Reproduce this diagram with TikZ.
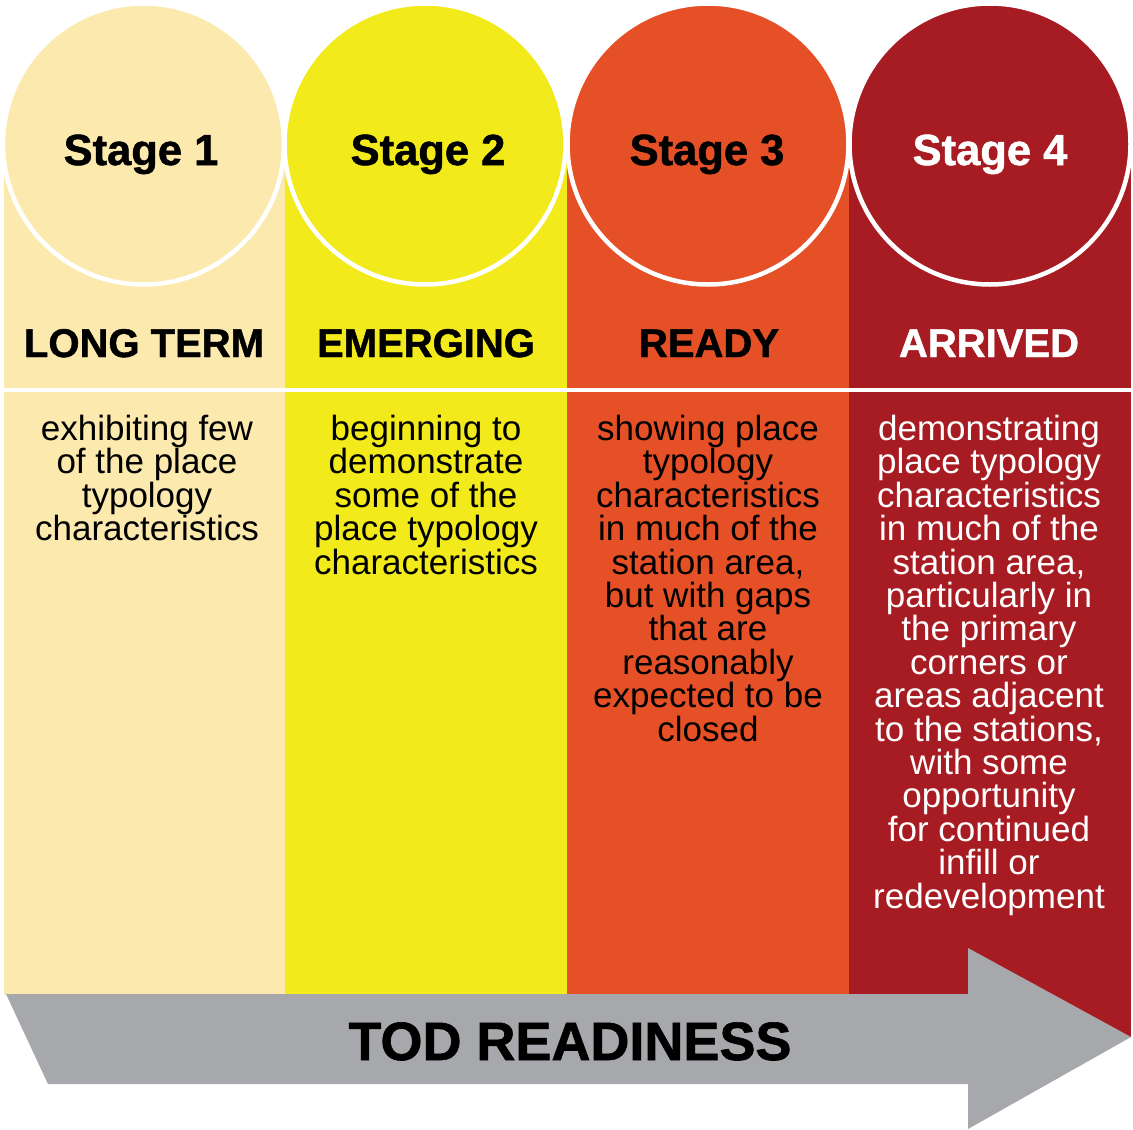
\documentclass[tikz,border=0pt]{standalone}
\usepackage{fontspec}
\setmainfont{Liberation Sans}
\newfontfamily\heavyfont[FakeBold=1.2]{Liberation Sans Bold}
\definecolor{colA}{HTML}{FCE9AE}
\definecolor{colB}{HTML}{F2EA1B}
\definecolor{colC}{HTML}{E55026}
\definecolor{colD}{HTML}{A71C22}
\definecolor{arrowgray}{HTML}{A7A8AB}
\tikzset{
  stagecircle/.style={circle, draw=white, line width=4.5pt, minimum size=281pt, inner sep=0pt},
  stagetext/.style={font=\fontsize{43.5}{50}\selectfont\heavyfont, anchor=base, inner sep=0pt},
  headtext/.style={font=\fontsize{40}{45}\selectfont\heavyfont, anchor=base, inner sep=0pt},
  bodytext/.style={align=center, font=\fontsize{35}{33.4}\selectfont, inner sep=0pt, anchor=north},
}
\begin{document}
\begin{tikzpicture}[x=1pt,y=-1pt]
\useasboundingbox (0,0) rectangle (1133,1130);
% columns
\fill[colA] (4,144) rectangle (285,995);
\fill[colB] (285,144) rectangle (567,995);
\fill[colC] (567,144) rectangle (849,995);
\fill[colD] (849,144) rectangle (1131,1037);
% circles
\node[stagecircle, fill=colA] (c1) at (143.5,144) {};
\node[stagecircle, fill=colB] (c2) at (425,144) {};
\node[stagecircle, fill=colC] (c3) at (708,144) {};
\node[stagecircle, fill=colD] (c4) at (990,144) {};
% separator
\draw[white, line width=3.5pt] (4,390) -- (1131,390);
% stage labels
\node[stagetext] (s1) at (141,165) {Stage 1};
\node[stagetext] (s2) at (428,165) {Stage 2};
\node[stagetext] (s3) at (707,165) {Stage 3};
\node[stagetext, text=white] (s4) at (990,165) {Stage 4};
% headings
\node[headtext] (h1) at (144,357) {LONG TERM};
\node[headtext] (h2) at (426,357) {EMERGING};
\node[headtext] (h3) at (709,357) {READY};
\node[headtext, text=white] (h4) at (989,357) {ARRIVED};
% body text
\node[bodytext] (b1) at (147,415) {exhibiting few\\of the place\\typology\\characteristics};
\node[bodytext] (b2) at (426,415) {beginning to\\demonstrate\\some of the\\place typology\\characteristics};
\node[bodytext] (b3) at (708,415) {showing place\\typology\\characteristics\\in much of the\\station area,\\but with gaps\\that are\\reasonably\\expected to be\\closed};
\node[bodytext, text=white] (b4) at (989,415) {demonstrating\\place typology\\characteristics\\in much of the\\station area,\\particularly in\\the primary\\corners or\\areas adjacent\\to the stations,\\with some\\opportunity\\for continued\\infill or\\redevelopment};
% arrow
\fill[arrowgray] (6,994) -- (968,994) -- (968,948) -- (1131,1037) -- (968,1129) -- (968,1084) -- (48,1084) -- cycle;
\node[font=\fontsize{54}{60}\selectfont\heavyfont, anchor=base, inner sep=0pt] (tod) at (570,1060) {TOD READINESS};
\end{tikzpicture}
\end{document}
